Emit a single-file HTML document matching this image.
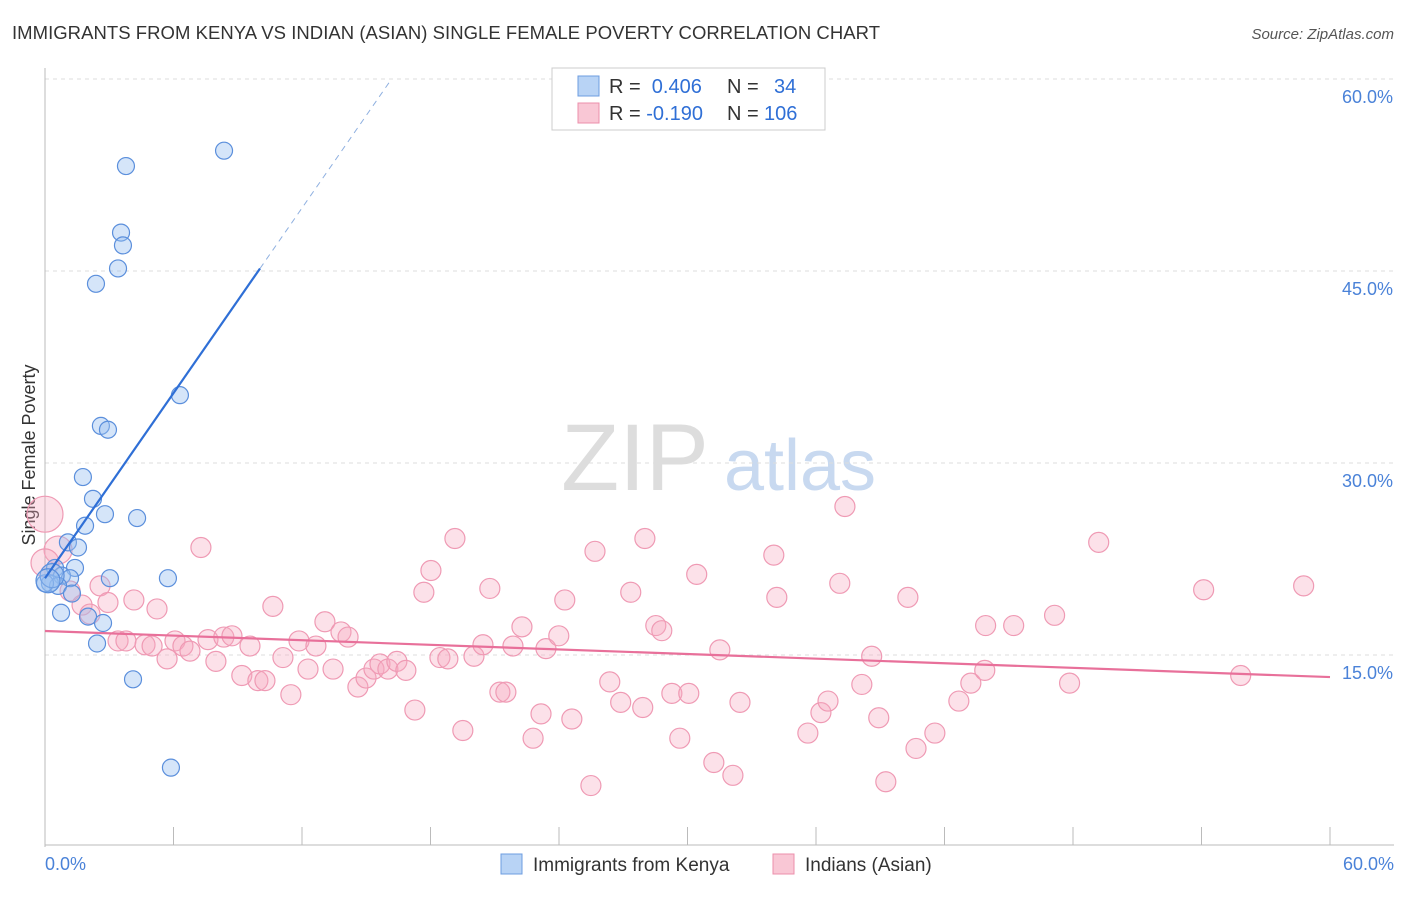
<!DOCTYPE html>
<html><head><meta charset="utf-8"><style>
body{margin:0;background:#fff;font-family:"Liberation Sans",sans-serif;}
svg text{font-family:"Liberation Sans",sans-serif;}
</style></head><body>
<svg id="c" width="1406" height="892" xmlns="http://www.w3.org/2000/svg">
<text x="12" y="39" font-size="18.5" fill="#333" textLength="868">IMMIGRANTS FROM KENYA VS INDIAN (ASIAN) SINGLE FEMALE POVERTY CORRELATION CHART</text>
<text x="1394" y="39" font-size="15" fill="#555" font-style="italic" text-anchor="end">Source: ZipAtlas.com</text>
<text x="35" y="455" font-size="18" fill="#333" text-anchor="middle" transform="rotate(-90 35 455)">Single Female Poverty</text>
<g><text x="635" y="490" font-size="95" fill="#ddd" font-family="Liberation Serif" text-anchor="middle">ZIP</text><text x="800" y="490" font-size="72" fill="#c8d9f0" text-anchor="middle">atlas</text></g>
<g id="grid"></g><g id="axes"></g><g id="pink"></g><g id="blue"></g><g id="lines"></g>
<g>
<rect x="552" y="68" width="273" height="62" fill="#fff" stroke="#ccc"/>
<rect x="578" y="76" width="21" height="20" fill="#b8d3f5" stroke="#6d9de0"/>
<rect x="578" y="103" width="21" height="20" fill="#f9c7d5" stroke="#ec8fab"/>
<text x="609" y="93" font-size="20" fill="#333">R = <tspan fill="#2f6fd6">&#160;0.406</tspan><tspan x="727">N = </tspan><tspan fill="#2f6fd6" x="774">34</tspan></text>
<text x="609" y="120" font-size="20" fill="#333">R = <tspan fill="#2f6fd6">-0.190</tspan><tspan x="727">N = </tspan><tspan fill="#2f6fd6" x="764">106</tspan></text>
</g>
<g>
<rect x="501" y="854" width="21" height="20" fill="#b8d3f5" stroke="#6d9de0"/>
<text x="533" y="871" font-size="19" fill="#333">Immigrants from Kenya</text>
<rect x="773" y="854" width="21" height="20" fill="#f9c7d5" stroke="#ec8fab"/>
<text x="805" y="871" font-size="19" fill="#333">Indians (Asian)</text>
</g>
</svg>
<script>
const blueX=[3.78,8.36,3.55,3.64,3.41,2.38,6.30,2.61,2.94,1.77,2.24,2.8,4.30,1.87,1.07,1.54,0.47,1.40,0.79,1.17,3.03,5.74,0.23,0.61,0,1.26,0.75,2.01,2.71,2.43,4.11,5.88,0.33,0.14];
const blueY=[53.2,54.4,48.0,47.0,45.2,44.0,35.3,32.9,32.6,28.9,27.2,26.0,25.7,25.1,23.8,23.4,21.8,21.8,21.2,21.0,21.0,21.0,20.6,20.4,20.6,19.8,18.3,18.0,17.5,15.9,13.1,6.2,21.2,20.8];
const pinkX=[0,0.61,0,1.17,2.57,1.73,2.94,4.15,2.1,5.23,7.28,3.41,3.78,4.67,5,5.7,6.07,6.44,6.77,7.61,7.98,8.35,8.73,9.19,9.57,9.94,10.27,10.64,11.11,11.48,11.86,12.28,12.65,13.07,13.45,13.82,14.15,14.61,14.99,15.36,15.64,16.01,16.43,16.85,17.27,17.69,18.02,18.44,18.81,19.14,19.51,20.03,20.45,20.77,21.24,21.52,21.85,22.27,22.79,23.16,23.39,23.99,24.27,24.6,25.49,25.68,26.37,26.88,27.35,27.91,28.01,28.52,28.8,29.27,29.64,30.06,30.43,31.23,31.51,32.12,32.45,34.03,34.17,35.62,36.23,36.56,37.11,37.35,38.14,38.6,38.93,39.26,40.29,40.67,41.55,42.67,43.23,43.88,43.92,45.23,47.14,47.84,49.2,54.1,55.83,58.77];
const pinkY=[26.0,23.2,22.2,20.0,20.4,18.9,19.1,19.3,18.2,18.6,23.4,16.1,16.1,15.8,15.7,14.7,16.1,15.7,15.3,16.2,14.5,16.4,16.5,13.4,15.7,13.0,13.0,18.8,14.8,11.9,16.1,13.9,15.7,17.6,13.9,16.8,16.4,12.5,13.2,13.9,14.3,13.9,14.5,13.8,10.7,19.9,21.6,14.8,14.7,24.1,9.1,14.9,15.8,20.2,12.1,12.1,15.7,17.2,8.5,10.4,15.5,16.5,19.3,10.0,4.8,23.1,12.9,11.3,19.9,10.9,24.1,17.3,16.9,12.0,8.5,12.0,21.3,6.6,15.4,5.6,11.3,22.8,19.5,8.9,10.5,11.4,20.6,26.6,12.7,14.9,10.1,5.1,19.5,7.7,8.9,11.4,12.8,13.8,17.3,17.3,18.1,12.8,23.8,20.1,13.4,20.4];
const xTicks=[0,6,12,18,24,30,36,42,48,54,60];
const yTicks=[15,30,45,60];
const blueFit=[21.0,2.41], pinkFit=[16.875,-0.06];
const X=v=>45+v/60*1285, Y=v=>847-v/15*192;
const ns="http://www.w3.org/2000/svg";
function mk(p,t,a){const e=document.createElementNS(ns,t);for(const k in a)e.setAttribute(k,a[k]);document.getElementById(p).appendChild(e);return e;}
yTicks.forEach(t=>{
 const l=mk('grid','line',{x1:45,x2:1394,y1:Y(t),y2:Y(t),stroke:'#ddd','stroke-dasharray':'4,4'});
 
 
 const tx=mk('grid','text',{x:1393,y:Y(t)+24,'font-size':18,fill:'#4a82d8','text-anchor':'end'});tx.textContent=t.toFixed(1)+'%';
 
 
});
mk('axes','line',{x1:45,x2:45,y1:68,y2:847,stroke:'#bbb'});
mk('axes','line',{x1:45,x2:1394,y1:845,y2:845,stroke:'#bbb'});
xTicks.forEach(t=>{const l=mk('axes','line',{x1:X(t),x2:X(t),y1:827,y2:845,stroke:'#bbb'});
 
 });
let a=mk('axes','text',{x:45,y:870,'font-size':18,fill:'#4a82d8'});a.textContent='0.0%';


a=mk('axes','text',{x:1394,y:870,'font-size':18,fill:'#4a82d8','text-anchor':'end'});a.textContent='60.0%';


pinkX.forEach((x,i)=>{const r=i<3?(i==0?18:14):10;const c=mk('pink','circle',{cx:X(x),cy:Y(pinkY[i]),r:r,fill:'rgba(246,170,192,0.35)',stroke:'#ef9ab4','stroke-width':1.2});
 
 });
blueX.forEach((x,i)=>{const c=mk('blue','circle',{cx:X(x),cy:Y(blueY[i]),r:(i>=32?12:8.5),fill:'rgba(150,190,240,0.4)',stroke:'#5b8fdc','stroke-width':1.2});
 
 });
const bx1=10.04,bx2=(60-blueFit[0])/blueFit[1];
let l=mk('lines','line',{x1:X(0),y1:Y(blueFit[0]),x2:X(bx1),y2:Y(blueFit[0]+blueFit[1]*bx1),stroke:'#2f6fd6','stroke-width':2.2});


l=mk('lines','line',{x1:X(bx1),y1:Y(blueFit[0]+blueFit[1]*bx1),x2:X(bx2),y2:Y(60),stroke:'#8fb0e0','stroke-width':1,'stroke-dasharray':'6,5'});


l=mk('lines','line',{x1:X(0),y1:Y(pinkFit[0]),x2:X(60),y2:Y(pinkFit[0]+pinkFit[1]*60),stroke:'#e8709a','stroke-width':2.2});


</script>
</body></html>
